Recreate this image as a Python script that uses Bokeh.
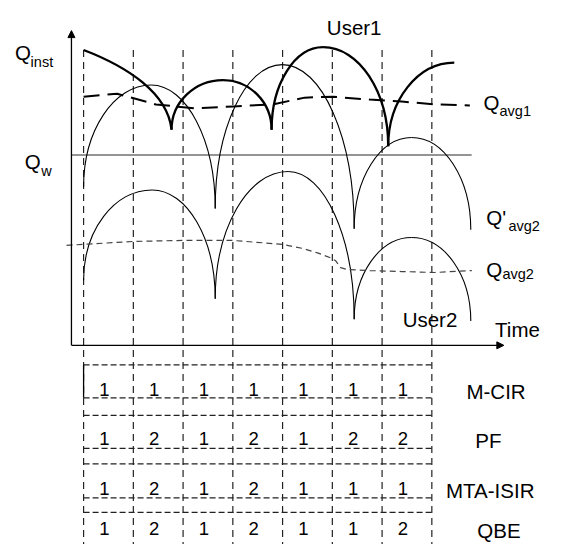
from bokeh.plotting import figure
from bokeh.models import Range1d, Arrow, NormalHead
from bokeh.core.properties import value
from bokeh.embed import file_html
from bokeh.resources import INLINE

# ---------------- data (time in slots, Q in arbitrary units) ----------------
slot_bounds = [0, 1, 2, 3, 4, 5, 6, 7]
q_w = 19.6

# User1 instantaneous Q: head segment then alternating cusp / peak knots
user1_head_t = [0.0, 0.869, 1.689]
user1_head_q = [30.4, 28.7, 26.0]
user1_t = [1.768, 2.803, 3.779, 4.814, 6.123, 7.451]
user1_q = [22.2, 27.3, 22.2, 30.7, 20.5, 29.1]

# User2 instantaneous Q (two versions), alternating cusp / peak knots
u2a_t = [0.0, 1.357, 2.646, 3.994, 5.439, 6.592, 7.783]
u2a_q = [16.3, 26.8, 14.1, 28.9, 12.0, 21.4, 11.9]
u2b_t = [0.0, 1.377, 2.646, 4.111, 5.439, 6.592, 7.783]
u2b_q = [6.7, 16.0, 4.8, 17.9, 2.7, 11.1, 2.5]

# average curves
qavg1_t = [0.0, 0.674, 1.455, 2.236, 3.018, 3.799, 4.443, 5.010, 5.752, 6.396, 7.061, 7.764]
qavg1_q = [25.6, 25.9, 24.8, 24.4, 24.6, 24.8, 25.5, 25.6, 25.3, 25.1, 24.8, 24.7]
qavg2_t = [-0.342, 0.0, 1.006, 2.0, 2.998, 3.994, 4.385, 4.717, 4.971, 5.068, 5.166, 5.303,
           5.752, 6.396, 7.061, 7.803]
qavg2_q = [10.3, 10.4, 10.7, 10.8, 10.8, 10.4, 10.0, 9.5, 9.0, 8.7, 8.0, 7.8, 7.7, 7.6, 7.5, 7.7]

# scheduling table
schemes = ["M-CIR", "PF", "MTA-ISIR", "QBE"]
mcir = [1, 1, 1, 1, 1, 1, 1]
pf = [1, 2, 1, 2, 1, 2, 2]
mta_isir = [1, 2, 1, 2, 1, 1, 1]
qbe = [1, 2, 1, 2, 1, 1, 2]
picks = [mcir, pf, mta_isir, qbe]

# ---------------- layout ----------------
FONT = value("Liberation Sans")
K = 0.5523

p = figure(width=549, height=544, x_range=Range1d(-1.670, 9.365), y_range=Range1d(-20.5, 35.5),
           output_backend="svg", toolbar_location=None, x_axis_type=None, y_axis_type=None,
           min_border=0, outline_line_color=None, background_fill_color="white",
           border_fill_color="white")
p.grid.visible = False


def arcs(ts, qs, first_is_cusp=True):
    out = dict(x0=[], y0=[], x1=[], y1=[], cx0=[], cy0=[], cx1=[], cy1=[])
    cusp = first_is_cusp
    for i in range(len(ts) - 1):
        xa, ya, xb, yb = ts[i], qs[i], ts[i + 1], qs[i + 1]
        if cusp:  # vertical tangent at a, horizontal at b
            c0 = (xa, ya + K * (yb - ya))
            c1 = (xb - K * (xb - xa), yb)
        else:     # horizontal tangent at a, vertical at b
            c0 = (xa + K * (xb - xa), ya)
            c1 = (xb, yb + K * (ya - yb))
        out["x0"].append(xa); out["y0"].append(ya)
        out["x1"].append(xb); out["y1"].append(yb)
        out["cx0"].append(c0[0]); out["cy0"].append(c0[1])
        out["cx1"].append(c1[0]); out["cy1"].append(c1[1])
        cusp = not cusp
    return out


# vertical slot lines
p.segment(x0=slot_bounds, y0=[30.4] * 8, x1=slot_bounds, y1=[-21.5] * 8,
          line_color="#222222", line_width=1.2, line_dash="7 5")

# Qw line
p.segment(x0=[-0.244], y0=[q_w], x1=[7.8], y1=[q_w], line_color="#707070", line_width=1.6)

# axes with arrows
p.add_layout(Arrow(end=NormalHead(size=7, fill_color="black", line_color="black"),
                   x_start=-0.244, y_start=0, x_end=-0.244, y_end=32.4,
                   line_color="black", line_width=1.3))
p.add_layout(Arrow(end=NormalHead(size=7, fill_color="black", line_color="black"),
                   x_start=-0.244, y_start=0, x_end=8.447, y_end=0,
                   line_color="black", line_width=1.3))

# user2 curves (thin)
for ts, qs in [(u2a_t, u2a_q), (u2b_t, u2b_q)]:
    d = arcs(ts, qs, True)
    p.bezier(x0=d["x0"], y0=d["y0"], x1=d["x1"], y1=d["y1"], cx0=d["cx0"], cy0=d["cy0"],
             cx1=d["cx1"], cy1=d["cy1"], line_color="black", line_width=1.1)

# user1 curve (thick)
p.bezier(x0=[user1_head_t[0]], y0=[user1_head_q[0]], x1=[user1_t[0]], y1=[user1_q[0]],
         cx0=[user1_head_t[1]], cy0=[user1_head_q[1]], cx1=[user1_head_t[2]], cy1=[user1_head_q[2]],
         line_color="black", line_width=2.3)
d = arcs(user1_t, user1_q, True)
p.bezier(x0=d["x0"], y0=d["y0"], x1=d["x1"], y1=d["y1"], cx0=d["cx0"], cy0=d["cy0"],
         cx1=d["cx1"], cy1=d["cy1"], line_color="black", line_width=2.3)

# averages
p.line(qavg1_t, qavg1_q, line_color="black", line_width=2.0, line_dash="16 8")
p.line(qavg2_t, qavg2_q, line_color="#444444", line_width=1.2, line_dash="6 4")

# table rows
row_tops = [-2.0, -7.2, -12.2, -17.2]
row_bots = [-5.4, -10.6, -15.7, -20.9]
p.segment(x0=[0] * 8, y0=row_tops + row_bots, x1=[7] * 8, y1=row_tops + row_bots,
          line_color="#222222", line_width=1.2, line_dash="6 3")
p.segment(x0=[0], y0=[row_tops[0]], x1=[0], y1=[row_bots[0]], line_color="black", line_width=1.3)

num_base = [-4.5, -9.6, -14.7, -18.9]
lab_x = [8.291, 8.135, 8.174, 8.350]
for r, (name, vals) in enumerate(zip(schemes, picks)):
    p.text(x=[i + 0.42 for i in range(7)], y=[num_base[r]] * 7, text=[str(v) for v in vals],
           text_font=FONT, text_font_size="18.5px", text_align="center",
           text_baseline="alphabetic", text_color="black")
    p.text(x=[lab_x[r]], y=[num_base[r] - 0.2], text=[name], text_font=FONT,
           text_font_size="20.5px", text_align="center", text_baseline="alphabetic",
           text_color="black")


def label(x, y, s, size, align="left"):
    p.text(x=[x], y=[y], text=[s], text_font=FONT, text_font_size=size, text_align=align,
           text_baseline="alphabetic", text_color="black")


label(-1.377, 30.1, "Q", "20.5px")
label(-1.065, 29.2, "inst", "14.5px")
label(-1.182, 18.9, "Q", "20.5px")
label(-0.850, 18.0, "w", "14.5px")
label(8.037, 25.0, "Q", "20.5px")
label(8.360, 24.1, "avg1", "14.5px")
label(8.096, 13.2, "Q'", "20.5px")
label(8.540, 12.3, "avg2", "14.5px")
label(8.096, 7.8, "Q", "20.5px")
label(8.420, 7.3, "avg2", "14.5px")
label(5.439, 32.7, "User1", "20.5px", "center")
label(6.963, 2.7, "User2", "20.5px", "center")
label(8.721, 1.6, "Time", "20.5px", "center")

open("out.html", "w").write(file_html(p, INLINE))
